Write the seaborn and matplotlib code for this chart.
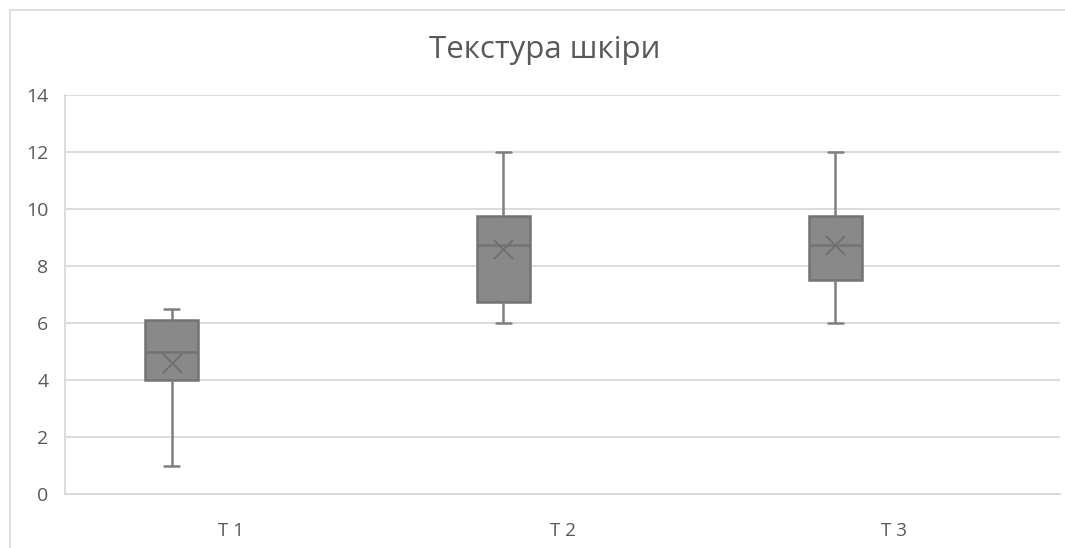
import matplotlib
matplotlib.use("Agg")
import matplotlib.pyplot as plt
import seaborn as sns
import pandas as pd
import numpy as np
from matplotlib.patches import Rectangle

# Data (five-number summary)
categories = ["T 1", "T 2", "T 3"]
mins = [1.0, 6.0, 6.0]
q1s = [4.0, 6.75, 7.5]
medians = [5.0, 8.75, 8.75]
q3s = [6.1, 9.75, 9.75]
maxs = [6.5, 12.0, 12.0]
means = [4.6, 8.6, 8.75]

OFFSET = -0.178  # Excel draws the box left of the category centre

rows = []
for i, (a, b, m, d, e) in enumerate(zip(mins, q1s, medians, q3s, maxs)):
    for v in (a, b, m, d, e):
        rows.append({"pos": i + OFFSET, "val": v})
df = pd.DataFrame(rows)
df_mean = pd.DataFrame({"pos": [i + OFFSET for i in range(len(categories))],
                        "val": means})

sns.set_theme(style="white")
plt.rcParams["font.family"] = ["Open Sans", "DejaVu Sans"]

fig = plt.figure(figsize=(10.65, 5.48), dpi=100)
ax = fig.add_axes([65/1065, 1-494/548, (1060-65)/1065, (494-95)/548])

edge = "#737373"
sns.boxplot(data=df, x="pos", y="val", native_scale=True, ax=ax, width=0.16,
            whis=1.5, color="#898989", saturation=1, showfliers=False,
            linewidth=1.8, linecolor=edge,
            boxprops=dict(facecolor="#898989", edgecolor=edge),
            whiskerprops=dict(color="#7f7f7f"),
            capprops=dict(color="#7f7f7f"),
            medianprops=dict(color=edge))

# narrower caps like the reference
for cont in ax.containers:
    caps = getattr(cont, "caps", None)
    if caps is None:
        continue
    for cap in caps:
        xd = np.asarray(cap.get_xdata(), dtype=float)
        c = xd.mean()
        cap.set_xdata([c - 0.023, c + 0.023])

sns.scatterplot(data=df_mean, x="pos", y="val", ax=ax, marker="x", s=190,
                color="#6e6e6e", linewidth=1.3, zorder=5)

ax.set_ylim(0, 14)
ax.set_yticks(range(0, 15, 2))
ax.set_xlim(-0.5, 2.5)
ax.set_xticks(range(len(categories)))
ax.set_xticklabels(categories)
ax.set_xlabel("")
ax.set_ylabel("")
ax.yaxis.grid(True, color="#d9d9d9", linewidth=1.3)
ax.xaxis.grid(False)
ax.set_axisbelow(True)
for s in ["top", "right"]:
    ax.spines[s].set_visible(False)
ax.spines["left"].set_color("#d9d9d9")
ax.spines["bottom"].set_color("#d9d9d9")
ax.spines["left"].set_linewidth(1.3)
ax.spines["bottom"].set_linewidth(1.3)
ax.tick_params(axis="y", colors="#595959", labelsize=14, length=0, pad=12)
ax.tick_params(axis="x", colors="#595959", labelsize=13.5, length=0, pad=20)

fig.text(545/1065, 1-50/548, "Текстура шкіри", ha="center", va="center",
         fontsize=22.5, color="#595959")

fig.patches.append(Rectangle((10/1065, -0.1), 1.2, 1-10/548+0.1,
                             transform=fig.transFigure, fill=False,
                             edgecolor="#d9d9d9", linewidth=1.2))

fig.savefig("out.png", dpi=100)
